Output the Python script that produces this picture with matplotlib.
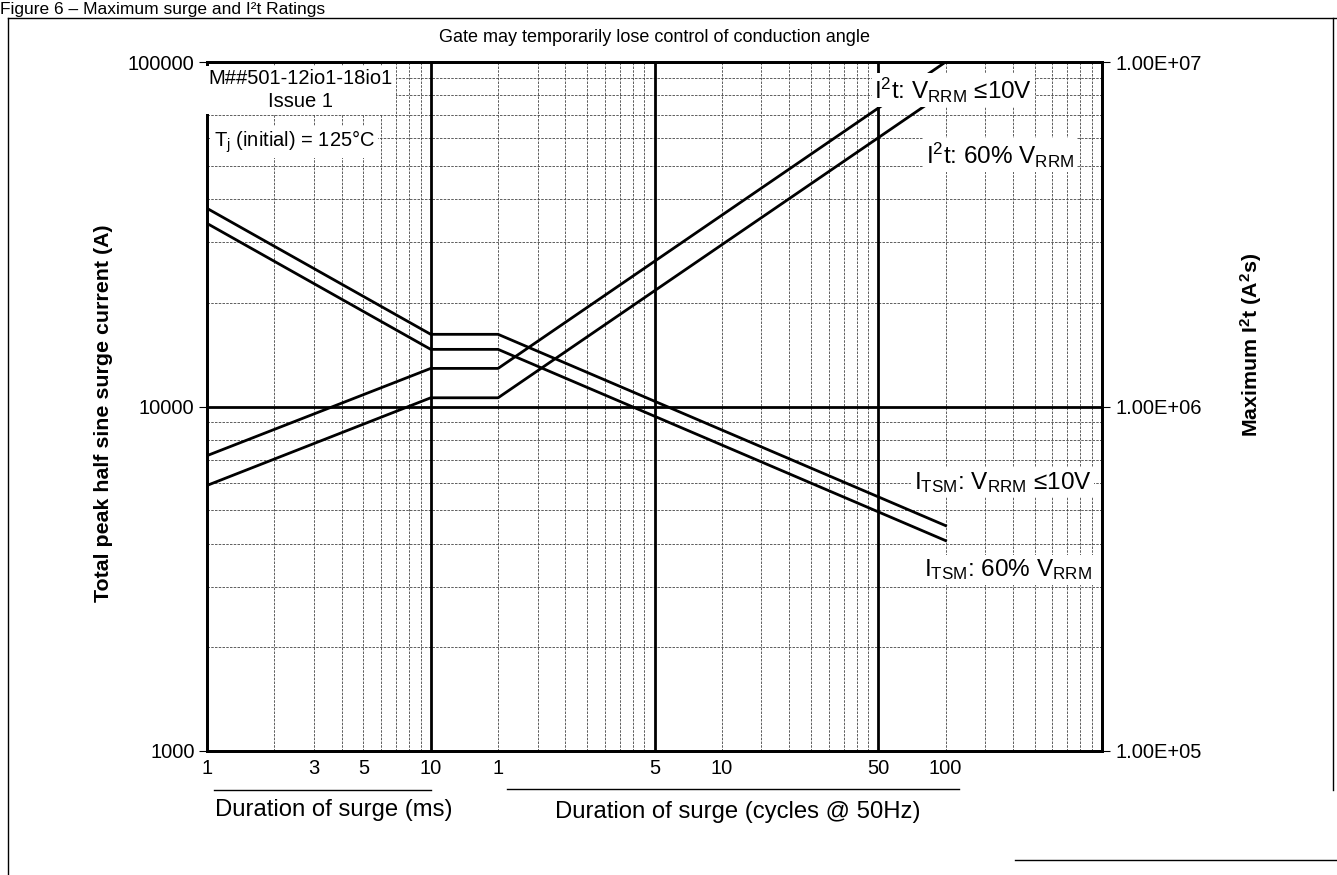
import matplotlib
matplotlib.use("Agg")
import matplotlib.pyplot as plt
import matplotlib.transforms as mtransforms
from matplotlib.lines import Line2D
from matplotlib.ticker import FixedLocator, NullLocator

plt.rcParams['font.family'] = ['Liberation Sans', 'DejaVu Sans']
plt.rcParams['mathtext.fontset'] = 'custom'
plt.rcParams['mathtext.rm'] = 'Liberation Sans'
plt.rcParams['mathtext.it'] = 'Liberation Sans'
plt.rcParams['mathtext.bf'] = 'Liberation Sans:bold'

# surge duration (ms) - curve break points
t_ms = [1, 10, 20, 2000]
# peak half sine surge current (A)
itsm_10v = [37600, 16200, 16200, 4510]
itsm_60 = [34000, 14650, 14650, 4080]
# maximum I2t (A^2 s)
i2t_10v = [7.2e5, 1.29e6, 1.29e6, 1.0e7]
i2t_60 = [5.9e5, 1.06e6, 1.06e6, 8.2e6]

# bottom tick labels (ms section, then cycles @ 50Hz section), positions in ms
xtick_ms = [1, 3, 5, 10, 20, 100, 200, 1000, 2000]
xtick_lbl = ["1", "3", "5", "10", "1", "5", "10", "50", "100"]

ylim_a = (1000, 100000)
ylim_i2t = (1e5, 1e7)

fig = plt.figure(figsize=(13.37, 8.75), dpi=100)
ax = fig.add_axes([207/1337, 1-751/875, (1102-207)/1337, (751-62)/875])
ax.set_xscale("log")
ax.set_yscale("log")
ax.set_xlim(1, 10000)
ax.set_ylim(*ylim_a)

# grid
grid_kw = dict(color="#444444", lw=0.6, ls=(0, (3, 1.5)), zorder=1)
for dec in [1, 10, 100, 1000]:
    for m in range(2, 10):
        ax.axvline(dec*m, **grid_kw)
for dec in [1000, 10000]:
    for m in range(2, 10):
        ax.axhline(dec*m, **grid_kw)
for v in [10, 100, 1000]:
    ax.axvline(v, color="black", lw=2.0, zorder=2)
ax.axhline(10000, color="black", lw=2.0, zorder=2)

ax.plot(t_ms, itsm_10v, color="black", lw=2.0, zorder=4)
ax.plot(t_ms, itsm_60, color="black", lw=2.0, zorder=4)

for s in ax.spines.values():
    s.set_linewidth(2.0)
    s.set_zorder(6)

ax.yaxis.set_major_locator(FixedLocator([1000, 10000, 100000]))
ax.yaxis.set_minor_locator(NullLocator())
ax.set_yticklabels(["1000", "10000", "100000"])
ax.tick_params(axis="y", which="major", length=6, width=0.8, pad=3, labelsize=14.5)

ax.xaxis.set_major_locator(FixedLocator(xtick_ms))
ax.xaxis.set_minor_locator(NullLocator())
ax.set_xticklabels(xtick_lbl)
ax.tick_params(axis="x", which="major", length=0, pad=6, labelsize=14.5)

ax.set_ylabel("Total peak half sine surge current (A)", fontsize=15.4,
              fontweight="bold")
ax.yaxis.set_label_coords(-0.105, 0.49)

ax2 = ax.twinx()
ax2.set_yscale("log")
ax2.set_ylim(*ylim_i2t)
ax2.plot(t_ms, i2t_10v, color="black", lw=2.0, zorder=4)
ax2.plot(t_ms, i2t_60, color="black", lw=2.0, zorder=4)
ax2.yaxis.set_major_locator(FixedLocator([1e5, 1e6, 1e7]))
ax2.yaxis.set_minor_locator(NullLocator())
ax2.set_yticklabels(["1.00E+05", "1.00E+06", "1.00E+07"])
ax2.tick_params(axis="y", which="major", length=6, width=0.8, pad=4, labelsize=14.5)
ax2.set_ylabel(r"Maximum I$^\mathbf{2}$t (A$^\mathbf{2}$s)", fontsize=15.4,
               fontweight="bold")
ax2.yaxis.set_label_coords(1.152, 0.589)
for s in ax2.spines.values():
    s.set_linewidth(2.0)

wbox = dict(facecolor="white", edgecolor="none", pad=2)
ax2.text(0.105, 0.959, "M##501-12io1-18io1\nIssue 1", transform=ax.transAxes,
         ha="center", va="center", fontsize=14.5, linespacing=1.3, bbox=wbox, zorder=8)
ax2.text(0.008, 0.884, r"T$_\mathregular{j}$ (initial) = 125°C", transform=ax.transAxes,
         ha="left", va="center", fontsize=14.5, bbox=wbox, zorder=8)

lbl_kw = dict(transform=ax.transAxes, ha="center", va="center", fontsize=17.5,
              bbox=wbox, zorder=8)
ax2.text(0.834, 0.959, r"I$^\mathregular{2}$t: V$_\mathregular{RRM}$ ≤10V", **lbl_kw)
ax2.text(0.886, 0.865, r"I$^\mathregular{2}$t: 60% V$_\mathregular{RRM}$", **lbl_kw)
ax2.text(0.889, 0.390, r"I$_\mathregular{TSM}$: V$_\mathregular{RRM}$ ≤10V", **lbl_kw)
ax2.text(0.895, 0.263, r"I$_\mathregular{TSM}$: 60% V$_\mathregular{RRM}$", **lbl_kw)

ax.text(0.5, 1.035, "Gate may temporarily lose control of conduction angle",
        transform=ax.transAxes, ha="center", va="center", fontsize=13)

# axis captions under the tick labels
blend = mtransforms.blended_transform_factory(ax.transData, ax.transAxes)
ax.plot([1.07, 10], [-0.057, -0.057], transform=blend, color="black", lw=1.0, clip_on=False)
ax.plot([22, 2300], [-0.055, -0.055], transform=blend, color="black", lw=1.0, clip_on=False)
ax.text(3.69, -0.085, "Duration of surge (ms)", transform=blend, ha="center",
        va="center", fontsize=17.2)
ax.text(236, -0.088, "Duration of surge (cycles @ 50Hz)", transform=blend, ha="center",
        va="center", fontsize=17.2)

# outer frame and figure title
fig.text(0.0, 1-14/875, "Figure 6 – Maximum surge and I²t Ratings", ha="left",
         va="baseline", fontsize=12.5)
frame_kw = dict(color="black", lw=1.0, transform=fig.transFigure)
fig.add_artist(Line2D([8/1337, 1.0], [1-18/875, 1-18/875], **frame_kw))
fig.add_artist(Line2D([8/1337, 8/1337], [1-18/875, 0.0], **frame_kw))
fig.add_artist(Line2D([1333/1337, 1333/1337], [1-18/875, 1-790/875], **frame_kw))
fig.add_artist(Line2D([1015/1337, 1.0], [1-860/875, 1-860/875], **frame_kw))

fig.savefig("out.png", dpi=100, facecolor="white")
